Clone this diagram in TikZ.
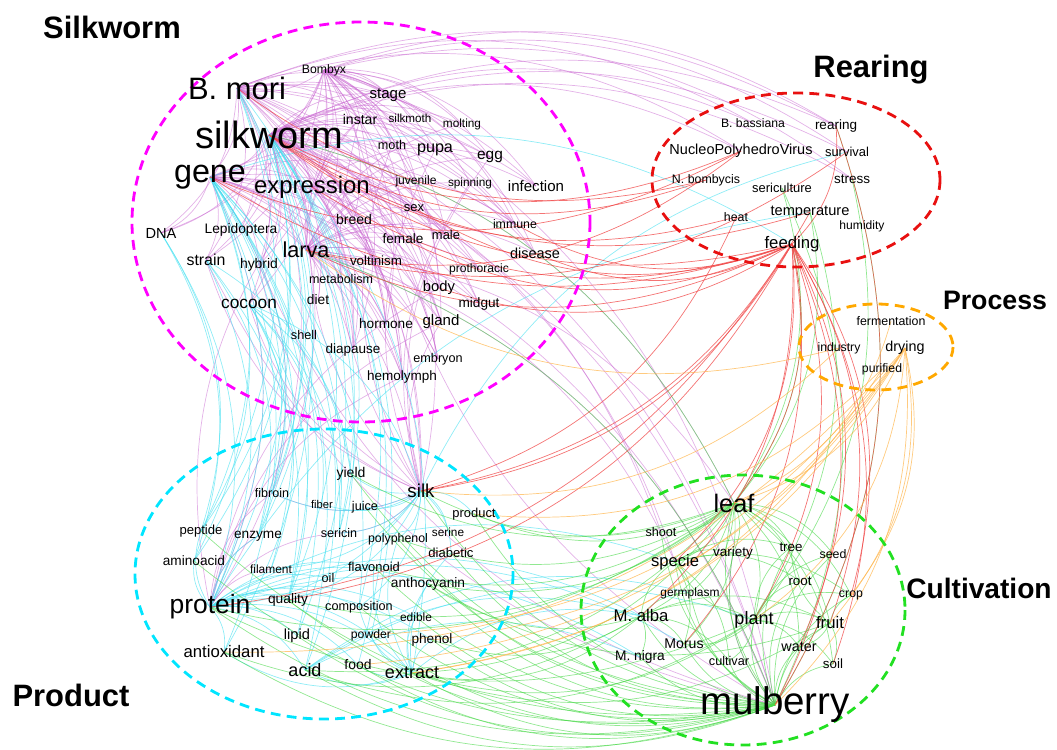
\documentclass[tikz,border=0pt]{standalone}
\usepackage{fontspec}
\setmainfont{Liberation Sans}
\usepackage{tikz}
\usetikzlibrary{backgrounds}
\definecolor{ringSilk}{HTML}{FF00FF}
\definecolor{ringRear}{HTML}{E81010}
\definecolor{ringProc}{HTML}{FFA800}
\definecolor{ringProd}{HTML}{00E5FF}
\definecolor{ringCult}{HTML}{22E022}
\definecolor{edgePurple}{HTML}{C865D0}
\definecolor{edgeCyan}{HTML}{45E0F0}
\definecolor{edgeGreen}{HTML}{48D848}
\definecolor{edgeRed}{HTML}{F04545}
\definecolor{edgeOrange}{HTML}{FFB448}
\tikzset{
  kwNode/.style={font=\fontsize{#1}{#1}\selectfont, inner sep=0pt, text=black},
  grpLabel/.style={font=\fontsize{#1}{#1}\selectfont\bfseries, inner sep=0pt},
  clusterRing/.style={draw=#1, line width=2pt, dash pattern=on 7pt off 4.5pt},
  linkSilk/.style={draw=edgePurple, line width=0.5pt, draw opacity=0.5},
  linkProd/.style={draw=edgeCyan, line width=0.5pt, draw opacity=0.6},
  linkCult/.style={draw=edgeGreen, line width=0.5pt, draw opacity=0.6},
  linkRear/.style={draw=edgeRed, line width=0.5pt, draw opacity=0.75},
  linkProc/.style={draw=edgeOrange, line width=0.5pt, draw opacity=0.7},
}
\begin{document}
\begin{tikzpicture}[x=0.025cm, y=-0.025cm]
\useasboundingbox (0,0) rectangle (1057,749);

% cluster rings
\draw [clusterRing=ringSilk] (361,222) ellipse [x radius=229, y radius=200];
\draw [clusterRing=ringRear] (796,180) ellipse [x radius=144, y radius=87];
\draw [clusterRing=ringProc] (876,347) ellipse [x radius=77, y radius=43];
\draw [clusterRing=ringProd] (324,574) ellipse [x radius=189, y radius=145];
\draw [clusterRing=ringCult] (743,610) ellipse [x radius=162, y radius=135];

\node (lblSilk) [grpLabel=22] at (112,27) {Silkworm};
\node (lblRear) [grpLabel=22] at (871,70) {Rearing};
\node (lblProc) [grpLabel=19] at (995,300) {Process};
\node (lblCult) [grpLabel=20] at (979,588) {Cultivation};
\node (lblProd) [grpLabel=22] at (71,695) {Product};

% Silkworm terms
\node (bombyx) [kwNode=8.7] at (324,70) {Bombyx};
\node (bmori) [kwNode=22] at (237,88) {B. mori};
\node (silkworm) [kwNode=27] at (269,135) {silkworm};
\node (gene) [kwNode=23] at (210,177) {gene};
\node (expression) [kwNode=17] at (312,187) {expression};
\node (stage) [kwNode=10.7] at (388,95) {stage};
\node (instar) [kwNode=10] at (360,119) {instar};
\node (silkmoth) [kwNode=8.3] at (410,118) {silkmoth};
\node (molting) [kwNode=8.4] at (462,124) {molting};
\node (moth) [kwNode=9] at (392,145) {moth};
\node (pupa) [kwNode=11.5] at (435,150) {pupa};
\node (egg) [kwNode=11] at (490,157) {egg};
\node (juvenile) [kwNode=8.6] at (416,181) {juvenile};
\node (spinning) [kwNode=8.4] at (470,183) {spinning};
\node (infection) [kwNode=10.7] at (536,186) {infection};
\node (sex) [kwNode=9.2] at (414,208) {sex};
\node (immune) [kwNode=8.8] at (515,224) {immune};
\node (breed) [kwNode=10] at (354,219) {breed};
\node (female) [kwNode=9.7] at (403,239) {female};
\node (male) [kwNode=9.2] at (446,235) {male};
\node (disease) [kwNode=10.3] at (535,253) {disease};
\node (prothoracic) [kwNode=8.6] at (479,269) {prothoracic};
\node (body) [kwNode=10.5] at (439,288) {body};
\node (dna) [kwNode=10.4] at (161,233) {DNA};
\node (lepido) [kwNode=9.8] at (241,230) {Lepidoptera};
\node (larva) [kwNode=15.4] at (306,250) {larva};
\node (strain) [kwNode=11.3] at (206,260) {strain};
\node (hybrid) [kwNode=9.9] at (259,265) {hybrid};
\node (voltinism) [kwNode=9.5] at (376,261) {voltinism};
\node (metabolism) [kwNode=8.9] at (341,279) {metabolism};
\node (cocoon) [kwNode=12.3] at (249,304) {cocoon};
\node (diet) [kwNode=9.8] at (318,300) {diet};
\node (hormone) [kwNode=9.7] at (386,324) {hormone};
\node (gland) [kwNode=10.7] at (441,322) {gland};
\node (midgut) [kwNode=9.7] at (479,304) {midgut};
\node (shell) [kwNode=9] at (304,335) {shell};
\node (diapause) [kwNode=9.6] at (353,350) {diapause};
\node (embryon) [kwNode=9] at (438,359) {embryon};
\node (hemolymph) [kwNode=9.6] at (402,377) {hemolymph};

% Rearing terms
\node (bbass) [kwNode=8.7] at (753,123) {B. bassiana};
\node (rearing) [kwNode=9.6] at (836,126) {rearing};
\node (npv) [kwNode=10.3] at (741,151) {NucleoPolyhedroVirus};
\node (survival) [kwNode=9.2] at (847,152) {survival};
\node (nbomb) [kwNode=8.8] at (706,180) {N. bombycis};
\node (sericult) [kwNode=9.2] at (782,188) {sericulture};
\node (stress) [kwNode=9.6] at (852,179) {stress};
\node (temp) [kwNode=10.4] at (810,212) {temperature};
\node (heat) [kwNode=8.8] at (736,217) {heat};
\node (humidity) [kwNode=8.6] at (862,226) {humidity};
\node (feeding) [kwNode=11.9] at (792,244) {feeding};

% Process terms
\node (ferment) [kwNode=8.8] at (891,321) {fermentation};
\node (industry) [kwNode=8.7] at (839,348) {industry};
\node (drying) [kwNode=10.2] at (905,348) {drying};
\node (purified) [kwNode=8.7] at (882,369) {purified};

% Product terms
\node (fibroin) [kwNode=8.9] at (272,493) {fibroin};
\node (yield) [kwNode=10] at (351,474) {yield};
\node (silk) [kwNode=13.3] at (421,491) {silk};
\node (fiber) [kwNode=8] at (322,504) {fiber};
\node (juice) [kwNode=9] at (365,507) {juice};
\node (product) [kwNode=9.2] at (474,514) {product};
\node (peptide) [kwNode=9.3] at (201,531) {peptide};
\node (enzyme) [kwNode=9.7] at (258,536) {enzyme};
\node (sericin) [kwNode=8.9] at (339,533) {sericin};
\node (polyphenol) [kwNode=8.8] at (398,539) {polyphenol};
\node (serine) [kwNode=8.4] at (448,532) {serine};
\node (diabetic) [kwNode=9.3] at (451,553) {diabetic};
\node (aminoacid) [kwNode=9.7] at (194,561) {aminoacid};
\node (filament) [kwNode=8.5] at (271,569) {filament};
\node (flavonoid) [kwNode=9.2] at (374,567) {flavonoid};
\node (oil) [kwNode=9] at (328,578) {oil};
\node (anthocyanin) [kwNode=9.8] at (428,584) {anthocyanin};
\node (protein) [kwNode=18.8] at (210,607) {protein};
\node (quality) [kwNode=9.8] at (288,600) {quality};
\node (composition) [kwNode=9] at (359,607) {composition};
\node (edible) [kwNode=8.5] at (416,617) {edible};
\node (lipid) [kwNode=10.4] at (297,636) {lipid};
\node (powder) [kwNode=8.7] at (371,635) {powder};
\node (phenol) [kwNode=9.7] at (432,640) {phenol};
\node (antiox) [kwNode=11.9] at (224,652) {antioxidant};
\node (acid) [kwNode=12.8] at (305,670) {acid};
\node (food) [kwNode=9.9] at (358,665) {food};
\node (extract) [kwNode=12.8] at (412,673) {extract};

% Cultivation terms
\node (leaf) [kwNode=18] at (734,503) {leaf};
\node (shoot) [kwNode=9] at (661,532) {shoot};
\node (tree) [kwNode=9.5] at (791,547) {tree};
\node (seed) [kwNode=8.8] at (833,554) {seed};
\node (variety) [kwNode=9.6] at (733,553) {variety};
\node (specie) [kwNode=11.8] at (675,562) {specie};
\node (root) [kwNode=9.5] at (800,581) {root};
\node (germplasm) [kwNode=8.5] at (690,593) {germplasm};
\node (crop) [kwNode=8.8] at (851,595) {crop};
\node (malba) [kwNode=11.9] at (641,616) {M. alba};
\node (plant) [kwNode=12.8] at (754,620) {plant};
\node (fruit) [kwNode=11.9] at (830,623) {fruit};
\node (morus) [kwNode=10] at (684,644) {Morus};
\node (water) [kwNode=10.2] at (799,647) {water};
\node (mnigra) [kwNode=9.8] at (640,657) {M. nigra};
\node (cultivar) [kwNode=9] at (729,661) {cultivar};
\node (soil) [kwNode=9.5] at (833,664) {soil};
\node (mulberry) [kwNode=27.4] at (775,705) {mulberry};

\begin{scope}[on background layer]
% purple links
\foreach \dst in {bmori,silkworm,stage,instar,silkmoth,moth,pupa,egg,molting,gene,larva,expression,infection,juvenile,spinning,sex,breed,female,male,body,gland,disease,immune,cocoon,hormone,diapause,silk,strain,hybrid,dna,rearing,survival,stress,mulberry}
  \draw [linkSilk] (bombyx.center) to[bend left=25] (\dst.center);
\foreach \dst in {gene,expression,larva,pupa,egg,moth,molting,stage,instar,silkmoth,spinning,juvenile,voltinism,metabolism,diet,hormone,diapause,embryon,hemolymph,gland,midgut,prothoracic,male,female,sex,body,infection,disease,immune,breed,strain,hybrid,cocoon,shell,lepido,dna,silk,fibroin,protein,mulberry,leaf,specie,shoot,rearing,stress,survival,bbass,npv}
  \draw [linkSilk] (silkworm.center) to[bend left=25] (\dst.center);
\foreach \dst in {gene,stage,pupa,larva,expression,strain,cocoon,hybrid,dna,lepido,hormone,gland,body,silk,infection,immune,disease,midgut,embryon,hemolymph,mulberry,rearing,egg,instar,diapause,bbass,npv}
  \draw [linkSilk] (bmori.center) to[bend left=25] (\dst.center);
\foreach \dst in {expression,larva,dna,strain,hybrid,hormone,diapause,gland,body,midgut,embryon,hemolymph,silk,immune,infection,metabolism,voltinism,prothoracic,fibroin,protein,mulberry}
  \draw [linkSilk] (gene.center) to[bend left=25] (\dst.center);
\foreach \dst in {pupa,egg,molting,instar,stage,diet,metabolism,hormone,hemolymph,midgut,body,gland,female,male,sex,immune,disease,silk,mulberry,leaf,juvenile,spinning,prothoracic,diapause,embryon,specie}
  \draw [linkSilk] (larva.center) to[bend left=25] (\dst.center);
\foreach \dst in {hormone,gland,metabolism,immune,prothoracic,diapause,embryon,hemolymph,female,male,egg,sex}
  \draw [linkSilk] (expression.center) to[bend left=25] (\dst.center);
\foreach \dst in {pupa,egg,moth,gland,cocoon,expression,instar,spinning,strain,hybrid,fibroin,sericin}
  \draw [linkSilk] (silk.center) to[bend left=25] (\dst.center);
\foreach \dst in {fibroin,sericin,expression,hemolymph,gland,body,enzyme,filament}
  \draw [linkSilk] (protein.center) to[bend left=25] (\dst.center);
\foreach \dst in {hybrid,strain,variety,instar}
  \draw [linkSilk] (mulberry.center) to[bend left=25] (\dst.center);

% cyan links
\foreach \dst in {protein,fibroin,sericin,peptide,aminoacid,enzyme,filament,oil,lipid,quality,composition,acid,antiox,feeding}
  \draw [linkProd] (gene.center) to[bend left=25] (\dst.center);
\foreach \dst in {peptide,aminoacid,enzyme,sericin,powder,food,quality,composition,lipid,acid,antiox,extract}
  \draw [linkProd] (silkworm.center) to[bend left=25] (\dst.center);
\foreach \dst in {protein,peptide,aminoacid}
  \draw [linkProd] (dna.center) to[bend left=25] (\dst.center);
\foreach \dst in {protein,enzyme,quality,yield}
  \draw [linkProd] (strain.center) to[bend left=25] (\dst.center);
\foreach \dst in {silk,fibroin,sericin,filament,quality,yield,fiber}
  \draw [linkProd] (cocoon.center) to[bend left=25] (\dst.center);
\foreach \dst in {protein,fibroin,sericin,peptide,enzyme}
  \draw [linkProd] (bmori.center) to[bend left=25] (\dst.center);
\foreach \dst in {fibroin,fiber,yield,product,sericin,serine,protein,juice,polyphenol,diabetic,quality,filament,composition,survival}
  \draw [linkProd] (silk.center) to[bend left=25] (\dst.center);
\foreach \dst in {aminoacid,peptide,enzyme,quality,lipid,acid,antiox,composition,extract,food,powder,oil,edible,phenol,flavonoid,anthocyanin,malba,specie,morus,mnigra,temp}
  \draw [linkProd] (protein.center) to[bend left=25] (\dst.center);
\foreach \dst in {phenol,powder,food,acid,antiox,polyphenol,flavonoid,anthocyanin,diabetic,composition,edible,malba}
  \draw [linkProd] (extract.center) to[bend left=25] (\dst.center);
\foreach \dst in {malba,plant,germplasm,mnigra}
  \draw [linkProd] (acid.center) to[bend left=25] (\dst.center);

% green links
\foreach \dst in {protein,acid,extract,phenol,antiox,food,powder,composition,lipid,anthocyanin,flavonoid,polyphenol,diabetic,quality,juice,yield,silk,product,edible,leaf,plant,fruit,water,soil,crop,seed,root,tree,variety,specie,germplasm,malba,morus,mnigra,cultivar,shoot,aminoacid,peptide}
  \draw [linkCult] (mulberry.center) to[bend left=25] (\dst.center);
\foreach \dst in {silk,protein,extract,polyphenol,flavonoid,yield,product,quality,specie,plant,variety,tree,root,crop,fruit,malba,morus,shoot,germplasm,seed,water,soil,acid,anthocyanin}
  \draw [linkCult] (leaf.center) to[bend left=25] (\dst.center);
\foreach \dst in {extract,anthocyanin,phenol,antiox,plant,morus,mnigra,specie,cultivar,germplasm,fruit}
  \draw [linkCult] (malba.center) to[bend left=25] (\dst.center);
\foreach \dst in {extract,acid,protein,root,soil,water,crop,fruit,seed,tree,specie,morus,cultivar}
  \draw [linkCult] (plant.center) to[bend left=25] (\dst.center);
\foreach \dst in {variety,germplasm,morus,cultivar,tree,root,crop}
  \draw [linkCult] (specie.center) to[bend left=25] (\dst.center);
\foreach \dst in {anthocyanin,extract,crop,water,soil,tree}
  \draw [linkCult] (fruit.center) to[bend left=25] (\dst.center);
\foreach \src/\dst in {sericult/leaf,sericult/mulberry,temp/plant,temp/leaf,rearing/mulberry,stress/plant,feeding/leaf,silkworm/leaf,larva/mulberry}
  \draw [linkCult] (\src.center) to[bend left=25] (\dst.center);

% red links
\foreach \dst in {larva,silkworm,gene,body,sex,female,immune,disease,silk,protein,mulberry,leaf,plant,fruit,soil,crop,specie,malba,expression,quality,morus,water}
  \draw [linkRear] (feeding.center) to[bend left=25] (\dst.center);
\foreach \src/\dst in {npv/silkworm,npv/larva,npv/gene,nbomb/silkworm,nbomb/bmori,heat/silkworm,heat/silk,temp/silkworm,temp/silk,rearing/mulberry,rearing/feeding,survival/larva}
  \draw [linkRear] (\src.center) to[bend left=25] (\dst.center);

% orange links
\foreach \dst in {leaf,mulberry,extract,phenol,powder,antiox,fruit,crop,plant,food}
  \draw [linkProc] (drying.center) to[bend left=25] (\dst.center);
\foreach \src/\dst in {purified/product,purified/extract,industry/silk,industry/larva,ferment/leaf}
  \draw [linkProc] (\src.center) to[bend left=25] (\dst.center);
\end{scope}
\end{tikzpicture}
\end{document}
